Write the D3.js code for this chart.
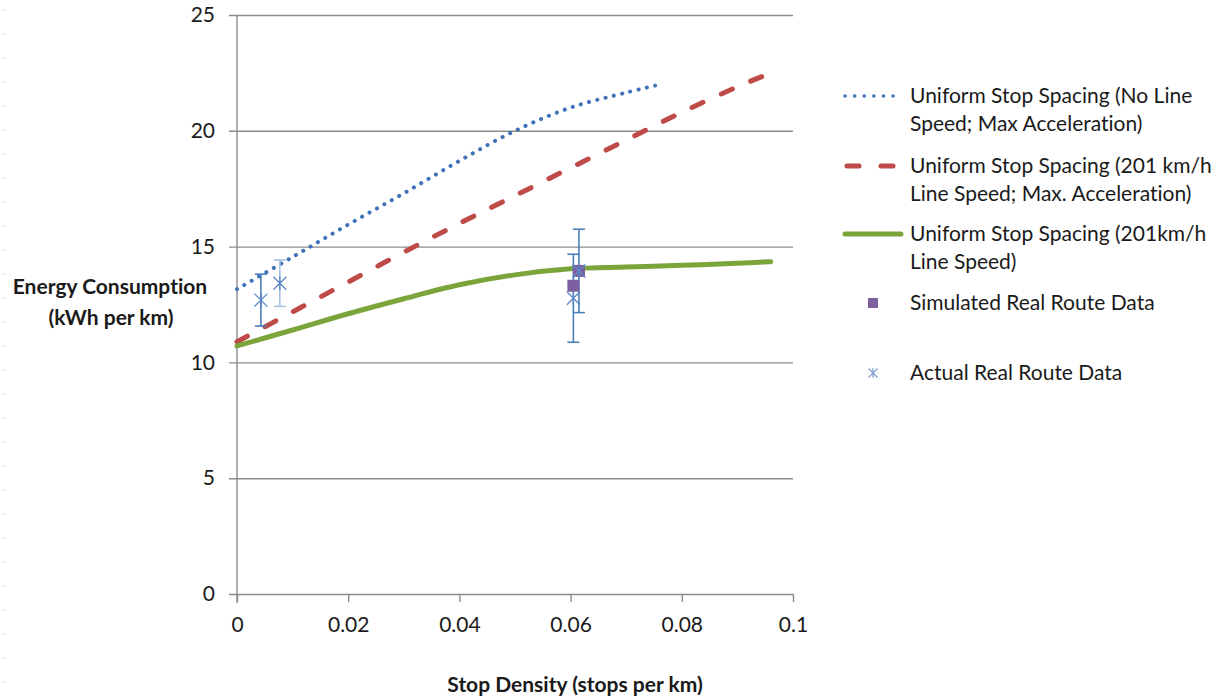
<!DOCTYPE html>
<html>
<head>
<meta charset="utf-8">
<script src="https://cdn.jsdelivr.net/npm/d3@7"></script>
<style>
  body { margin: 0; background: #fff; }
  svg text { font-family: Lato, "Open Sans", sans-serif; fill: #1a1a1a; font-variant-ligatures: none; }
</style>
</head>
<body>
<script>
// series
const xNoLine = [0, 0.01, 0.02, 0.03, 0.04, 0.05, 0.06, 0.07, 0.0752];
const yNoLine = [13.16, 14.55, 15.95, 17.3, 18.7, 20.0, 21.0, 21.65, 21.95];

const xMaxAcc = [0, 0.01, 0.02, 0.03, 0.04, 0.05, 0.06, 0.07, 0.08, 0.09, 0.095];
const yMaxAcc = [10.89, 12.18, 13.47, 14.76, 16.0, 17.2, 18.4, 19.6, 20.8, 21.9, 22.4];

const xLineSpeed = [0, 0.01, 0.02, 0.03, 0.04, 0.05, 0.06, 0.07, 0.08, 0.09, 0.096];
const yLineSpeed = [10.71, 11.4, 12.1, 12.75, 13.35, 13.78, 14.04, 14.12, 14.19, 14.28, 14.35];

const simX = [0.0605, 0.0615];
const simY = [13.31, 13.95];

const actX = [0.0043, 0.0077, 0.0605, 0.0615];
const actY = [12.69, 13.42, 12.77, 13.95];
const actErr = [1.12, 1.0, 1.9, 1.8];

const xTicks = [0, 0.02, 0.04, 0.06, 0.08, 0.1];
const yTicks = [0, 5, 10, 15, 20, 25];

const legendLabels = [
  ["Uniform Stop Spacing (No Line", "Speed; Max Acceleration)"],
  ["Uniform Stop Spacing (201 km/h", "Line Speed; Max. Acceleration)"],
  ["Uniform Stop Spacing (201km/h", "Line Speed)"],
  ["Simulated Real Route Data"],
  ["Actual Real Route Data"]
];

const w = 1222, h = 699;
const margin = { top: 15, right: 429, bottom: 105, left: 237 };
const innerW = w - margin.left - margin.right;
const innerH = h - margin.top - margin.bottom;

const blue = "#3f72b8", red = "#be4b48", green = "#7ba43b", purple = "#7e60a0", errBlue = "#4a7ebb";
const fs = "21px";

const svg = d3.select("body").append("svg")
  .attr("width", w)
  .attr("height", h);

// faint dotted border on the left edge
svg.append("line")
  .attr("x1", 4).attr("x2", 4).attr("y1", 9).attr("y2", 699)
  .attr("stroke", "#d0d0d0").attr("stroke-width", 1.5)
  .attr("stroke-dasharray", "1.5,22.5");

const g = svg.append("g")
  .attr("transform", `translate(${margin.left},${margin.top})`);

const xScale = d3.scaleLinear().domain([0, 0.1]).range([0, innerW]);
const yScale = d3.scaleLinear().domain([0, 25]).range([innerH, 0]);

const yAxisG = g.append("g")
  .attr("transform", "translate(-8,0)")
  .call(d3.axisLeft(yScale).tickValues(yTicks).tickSize(-(innerW + 8)).tickSizeOuter(0).tickPadding(14));
yAxisG.select(".domain").remove();
yAxisG.selectAll(".tick line").attr("stroke", "#8c8c8c").attr("stroke-width", 1.4);
yAxisG.selectAll(".tick text").style("font-size", fs).attr("fill", "#1a1a1a");

const xAxisG = g.append("g")
  .attr("transform", `translate(0,${innerH})`)
  .call(d3.axisBottom(xScale).tickValues(xTicks).tickSize(8).tickPadding(15).tickFormat(d3.format("~g")));
xAxisG.select(".domain").remove();
xAxisG.selectAll(".tick line").attr("stroke", "#8c8c8c").attr("stroke-width", 1.4);
xAxisG.selectAll(".tick text").style("font-size", fs).attr("fill", "#1a1a1a");

g.append("line")
  .attr("x1", 0).attr("x2", 0).attr("y1", 0).attr("y2", innerH + 9)
  .attr("stroke", "#8c8c8c").attr("stroke-width", 1.4);

const line = d3.line()
  .x(d => xScale(d[0]))
  .y(d => yScale(d[1]))
  .curve(d3.curveCatmullRom.alpha(0.5));

g.append("path")
  .datum(d3.zip(xNoLine, yNoLine))
  .attr("d", line)
  .attr("fill", "none").attr("stroke", blue).attr("stroke-width", 4)
  .attr("stroke-linecap", "round").attr("stroke-dasharray", "0.1,8.4");

g.append("path")
  .datum(d3.zip(xMaxAcc, yMaxAcc))
  .attr("d", line)
  .attr("fill", "none").attr("stroke", red).attr("stroke-width", 5)
  .attr("stroke-linecap", "round").attr("stroke-dasharray", "12,20");

g.append("path")
  .datum(d3.zip(xLineSpeed, yLineSpeed))
  .attr("d", line)
  .attr("fill", "none").attr("stroke", green).attr("stroke-width", 5)
  .attr("stroke-linecap", "round");

// error bars of the actual route data
const act = actX.map((x, i) => ({ x: x, y: actY[i], e: actErr[i], light: i === 1 }));
const bars = g.selectAll(".err").data(act).enter().append("g").attr("class", "err")
  .attr("stroke", d => d.light ? "#a9c1e1" : errBlue).attr("stroke-width", 1.6);
bars.append("line")
  .attr("x1", d => xScale(d.x)).attr("x2", d => xScale(d.x))
  .attr("y1", d => yScale(d.y + d.e)).attr("y2", d => yScale(d.y - d.e));
bars.append("line")
  .attr("x1", d => xScale(d.x) - 6).attr("x2", d => xScale(d.x) + 6)
  .attr("y1", d => yScale(d.y + d.e)).attr("y2", d => yScale(d.y + d.e));
bars.append("line")
  .attr("x1", d => xScale(d.x) - 6).attr("x2", d => xScale(d.x) + 6)
  .attr("y1", d => yScale(d.y - d.e)).attr("y2", d => yScale(d.y - d.e));

g.selectAll(".sim").data(d3.zip(simX, simY)).enter().append("rect")
  .attr("class", "sim")
  .attr("x", d => xScale(d[0]) - 6).attr("y", d => yScale(d[1]) - 6)
  .attr("width", 12).attr("height", 12)
  .attr("fill", purple);

function starPath(s) {
  return `M${-s},${-s}L${s},${s}M${-s},${s}L${s},${-s}M0,${-s * 1.1}L0,${s * 1.1}`;
}

g.selectAll(".act").data(act).enter().append("path")
  .attr("class", "act")
  .attr("transform", d => `translate(${xScale(d.x)},${yScale(d.y)})`)
  .attr("d", starPath(6.5))
  .attr("fill", "none").attr("stroke", "#5b88c6").attr("stroke-width", 1.3);

g.append("text")
  .attr("x", 575 - margin.left).attr("y", 692 - margin.top)
  .attr("text-anchor", "middle")
  .style("font-size", fs).style("font-weight", "bold")
  .text("Stop Density (stops per km)");

const yTitle = svg.append("text")
  .attr("text-anchor", "middle")
  .style("font-size", fs).style("font-weight", "bold");
yTitle.append("tspan").attr("x", 110).attr("y", 294).text("Energy Consumption");
yTitle.append("tspan").attr("x", 111).attr("y", 325).text("(kWh per km)");

// legend
const legend = svg.append("g").attr("transform", "translate(845,0)");
const rowY = [96, 166, 234, 303, 373];

legend.append("line").attr("x1", 0).attr("x2", 52).attr("y1", rowY[0]).attr("y2", rowY[0])
  .attr("stroke", blue).attr("stroke-width", 3.5).attr("stroke-linecap", "round").attr("stroke-dasharray", "0.1,9.5");
legend.append("line").attr("x1", 2).attr("x2", 52).attr("y1", rowY[1]).attr("y2", rowY[1])
  .attr("stroke", red).attr("stroke-width", 5).attr("stroke-linecap", "round").attr("stroke-dasharray", "12,22");
legend.append("line").attr("x1", 0).attr("x2", 56).attr("y1", rowY[2]).attr("y2", rowY[2])
  .attr("stroke", green).attr("stroke-width", 5).attr("stroke-linecap", "round");
legend.append("rect").attr("x", 23).attr("y", rowY[3] - 5).attr("width", 10).attr("height", 10).attr("fill", purple);
legend.append("path").attr("transform", `translate(28,${rowY[4]})`).attr("d", starPath(4.5))
  .attr("fill", "none").attr("stroke", "#7ea0d0").attr("stroke-width", 1.2);

legendLabels.forEach((lines, i) => {
  const t = legend.append("text").style("font-size", fs);
  lines.forEach((s, j) => {
    t.append("tspan").attr("x", 65).attr("y", rowY[i] + 7 + j * 27.5).text(s);
  });
});
</script>
</body>
</html>
